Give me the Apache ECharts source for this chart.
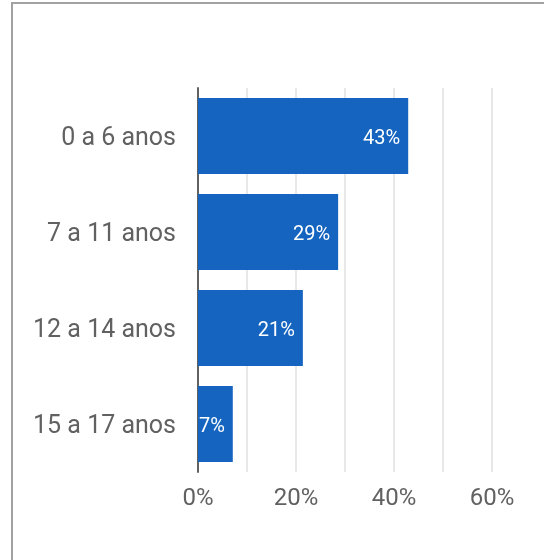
<!DOCTYPE html>
<html>
<head>
<meta charset="utf-8">
<script src="https://cdn.jsdelivr.net/npm/echarts@6/dist/echarts.min.js"></script>
<style>
html,body{margin:0;padding:0;background:#fff;}
#chart{position:absolute;left:0;top:0;width:544px;height:560px;}
#frame{position:absolute;left:11px;top:2px;width:540px;height:560px;border:2px solid #a2a2a2;box-sizing:border-box;pointer-events:none;}
</style>
</head>
<body>
<div id="chart"></div>
<div id="frame"></div>
<script>
const categories = ["0 a 6 anos", "7 a 11 anos", "12 a 14 anos", "15 a 17 anos"];
const values = [42.9, 28.6, 21.4, 7.1];
const xTicks = [0, 20, 40, 60];

const chart = echarts.init(document.getElementById('chart'), null, {renderer: 'canvas'});
chart.setOption({
  animation: false,
  backgroundColor: 'transparent',
  grid: {left: 198, right: 52, top: 88, bottom: 88, containLabel: false},
  xAxis: {
    type: 'value',
    min: xTicks[0],
    max: xTicks[xTicks.length - 1],
    interval: 20,
    axisLine: {show: false},
    axisTick: {show: false},
    splitLine: {show: true, lineStyle: {color: '#e8e8e8', width: 2}},
    minorTick: {show: false, splitNumber: 2},
    minorSplitLine: {show: true, lineStyle: {color: '#e8e8e8', width: 2}},
    axisLabel: {
      formatter: v => v + '%',
      color: '#616161',
      fontFamily: 'Roboto',
      fontSize: 24,
      margin: 15
    }
  },
  yAxis: {
    type: 'category',
    data: categories,
    inverse: true,
    axisLine: {show: true, lineStyle: {color: '#616161', width: 2}},
    axisTick: {show: false},
    axisLabel: {
      color: '#616161',
      fontFamily: 'Roboto',
      fontSize: 25,
      margin: 22,
      formatter: v => '{a|' + v + '}',
      rich: {
        a: {
          color: '#616161',
          fontFamily: 'Roboto',
          fontSize: 25,
          padding: [6, 0, 0, 0]
        }
      }
    }
  },
  series: [{
    type: 'bar',
    data: values,
    barCategoryGap: '21%',
    itemStyle: {color: '#1565c0'},
    label: {
      show: true,
      position: 'insideRight',
      distance: 8,
      offset: [0, 3],
      color: '#ffffff',
      fontFamily: 'Roboto',
      fontSize: 20,
      formatter: p => Math.round(p.value) + '%'
    }
  }]
});
</script>
</body>
</html>
